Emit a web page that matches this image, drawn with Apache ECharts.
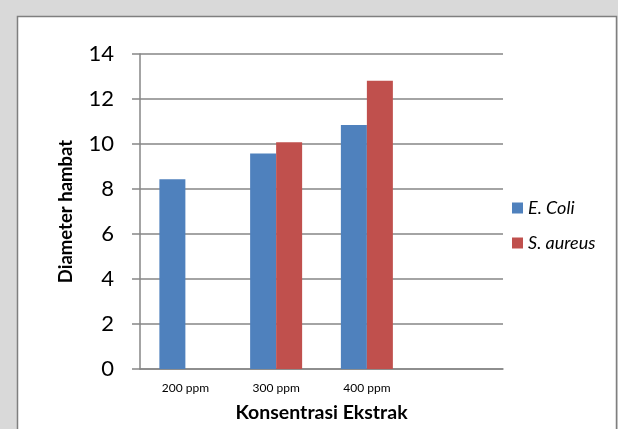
<!DOCTYPE html>
<html>
<head>
<meta charset="utf-8">
<script src="https://cdn.jsdelivr.net/npm/echarts@6/dist/echarts.min.js"></script>
<style>
html,body{margin:0;padding:0;background:#d9d9d9;}
#c{width:618px;height:429px;}
</style>
</head>
<body>
<div id="c"></div>
<script>
const categories = ['200 ppm', '300 ppm', '400 ppm', ''];
const eColi = [8.43, 9.58, 10.85, null];
const sAureus = [null, 10.08, 12.81, null];
const yTicks = { min: 0, max: 14, interval: 2 };

const chart = echarts.init(document.getElementById('c'));
const FONT = 'Lato, "Open Sans", sans-serif';
chart.setOption({
  backgroundColor: '#d9d9d9',
  animation: false,
  graphic: [{
    type: 'rect',
    shape: { x: 17.5, y: 16.5, width: 599, height: 420 },
    style: { fill: '#ffffff', stroke: '#7f7f7f', lineWidth: 1.5 },
    z: -10, silent: true
  }],
  grid: { left: 140, right: 115, top: 54, bottom: 60 },
  legend: {
    orient: 'vertical', left: 507, top: 194,
    itemWidth: 11, itemHeight: 11, itemGap: 17,
    icon: 'rect',
    textStyle: { fontFamily: FONT, fontStyle: 'italic', fontSize: 18, color: '#000' },
    data: ['E. Coli', 'S. aureus']
  },
  xAxis: {
    type: 'category', data: categories,
    name: 'Konsentrasi Ekstrak', nameLocation: 'middle', nameGap: 34,
    nameTextStyle: { fontFamily: FONT, fontWeight: 'bold', fontSize: 19.5, color: '#000' },
    axisLine: { lineStyle: { color: '#868686', width: 1.5 } },
    axisTick: { show: false },
    axisLabel: { fontFamily: FONT, fontSize: 12, color: '#000', margin: 13, interval: 0 }
  },
  yAxis: {
    type: 'value', min: yTicks.min, max: yTicks.max, interval: yTicks.interval,
    name: 'Diameter hambat', nameLocation: 'middle', nameGap: 64,
    nameTextStyle: { fontFamily: FONT, fontWeight: 'bold', fontSize: 18.5, color: '#000' },
    axisLine: { show: true, lineStyle: { color: '#868686', width: 1.5 } },
    axisTick: { show: true, length: 8, lineStyle: { color: '#868686', width: 1.5 } },
    axisLabel: { fontFamily: FONT, fontSize: 22, color: '#000', margin: 26 },
    splitLine: { lineStyle: { color: '#868686', width: 1.5 } }
  },
  series: [
    { name: 'E. Coli', type: 'bar', data: eColi, barWidth: 26, barGap: '0%',
      itemStyle: { color: '#4F81BD' } },
    { name: 'S. aureus', type: 'bar', data: sAureus, barWidth: 26, barGap: '0%',
      itemStyle: { color: '#C0504D' } }
  ]
});
</script>
</body>
</html>
